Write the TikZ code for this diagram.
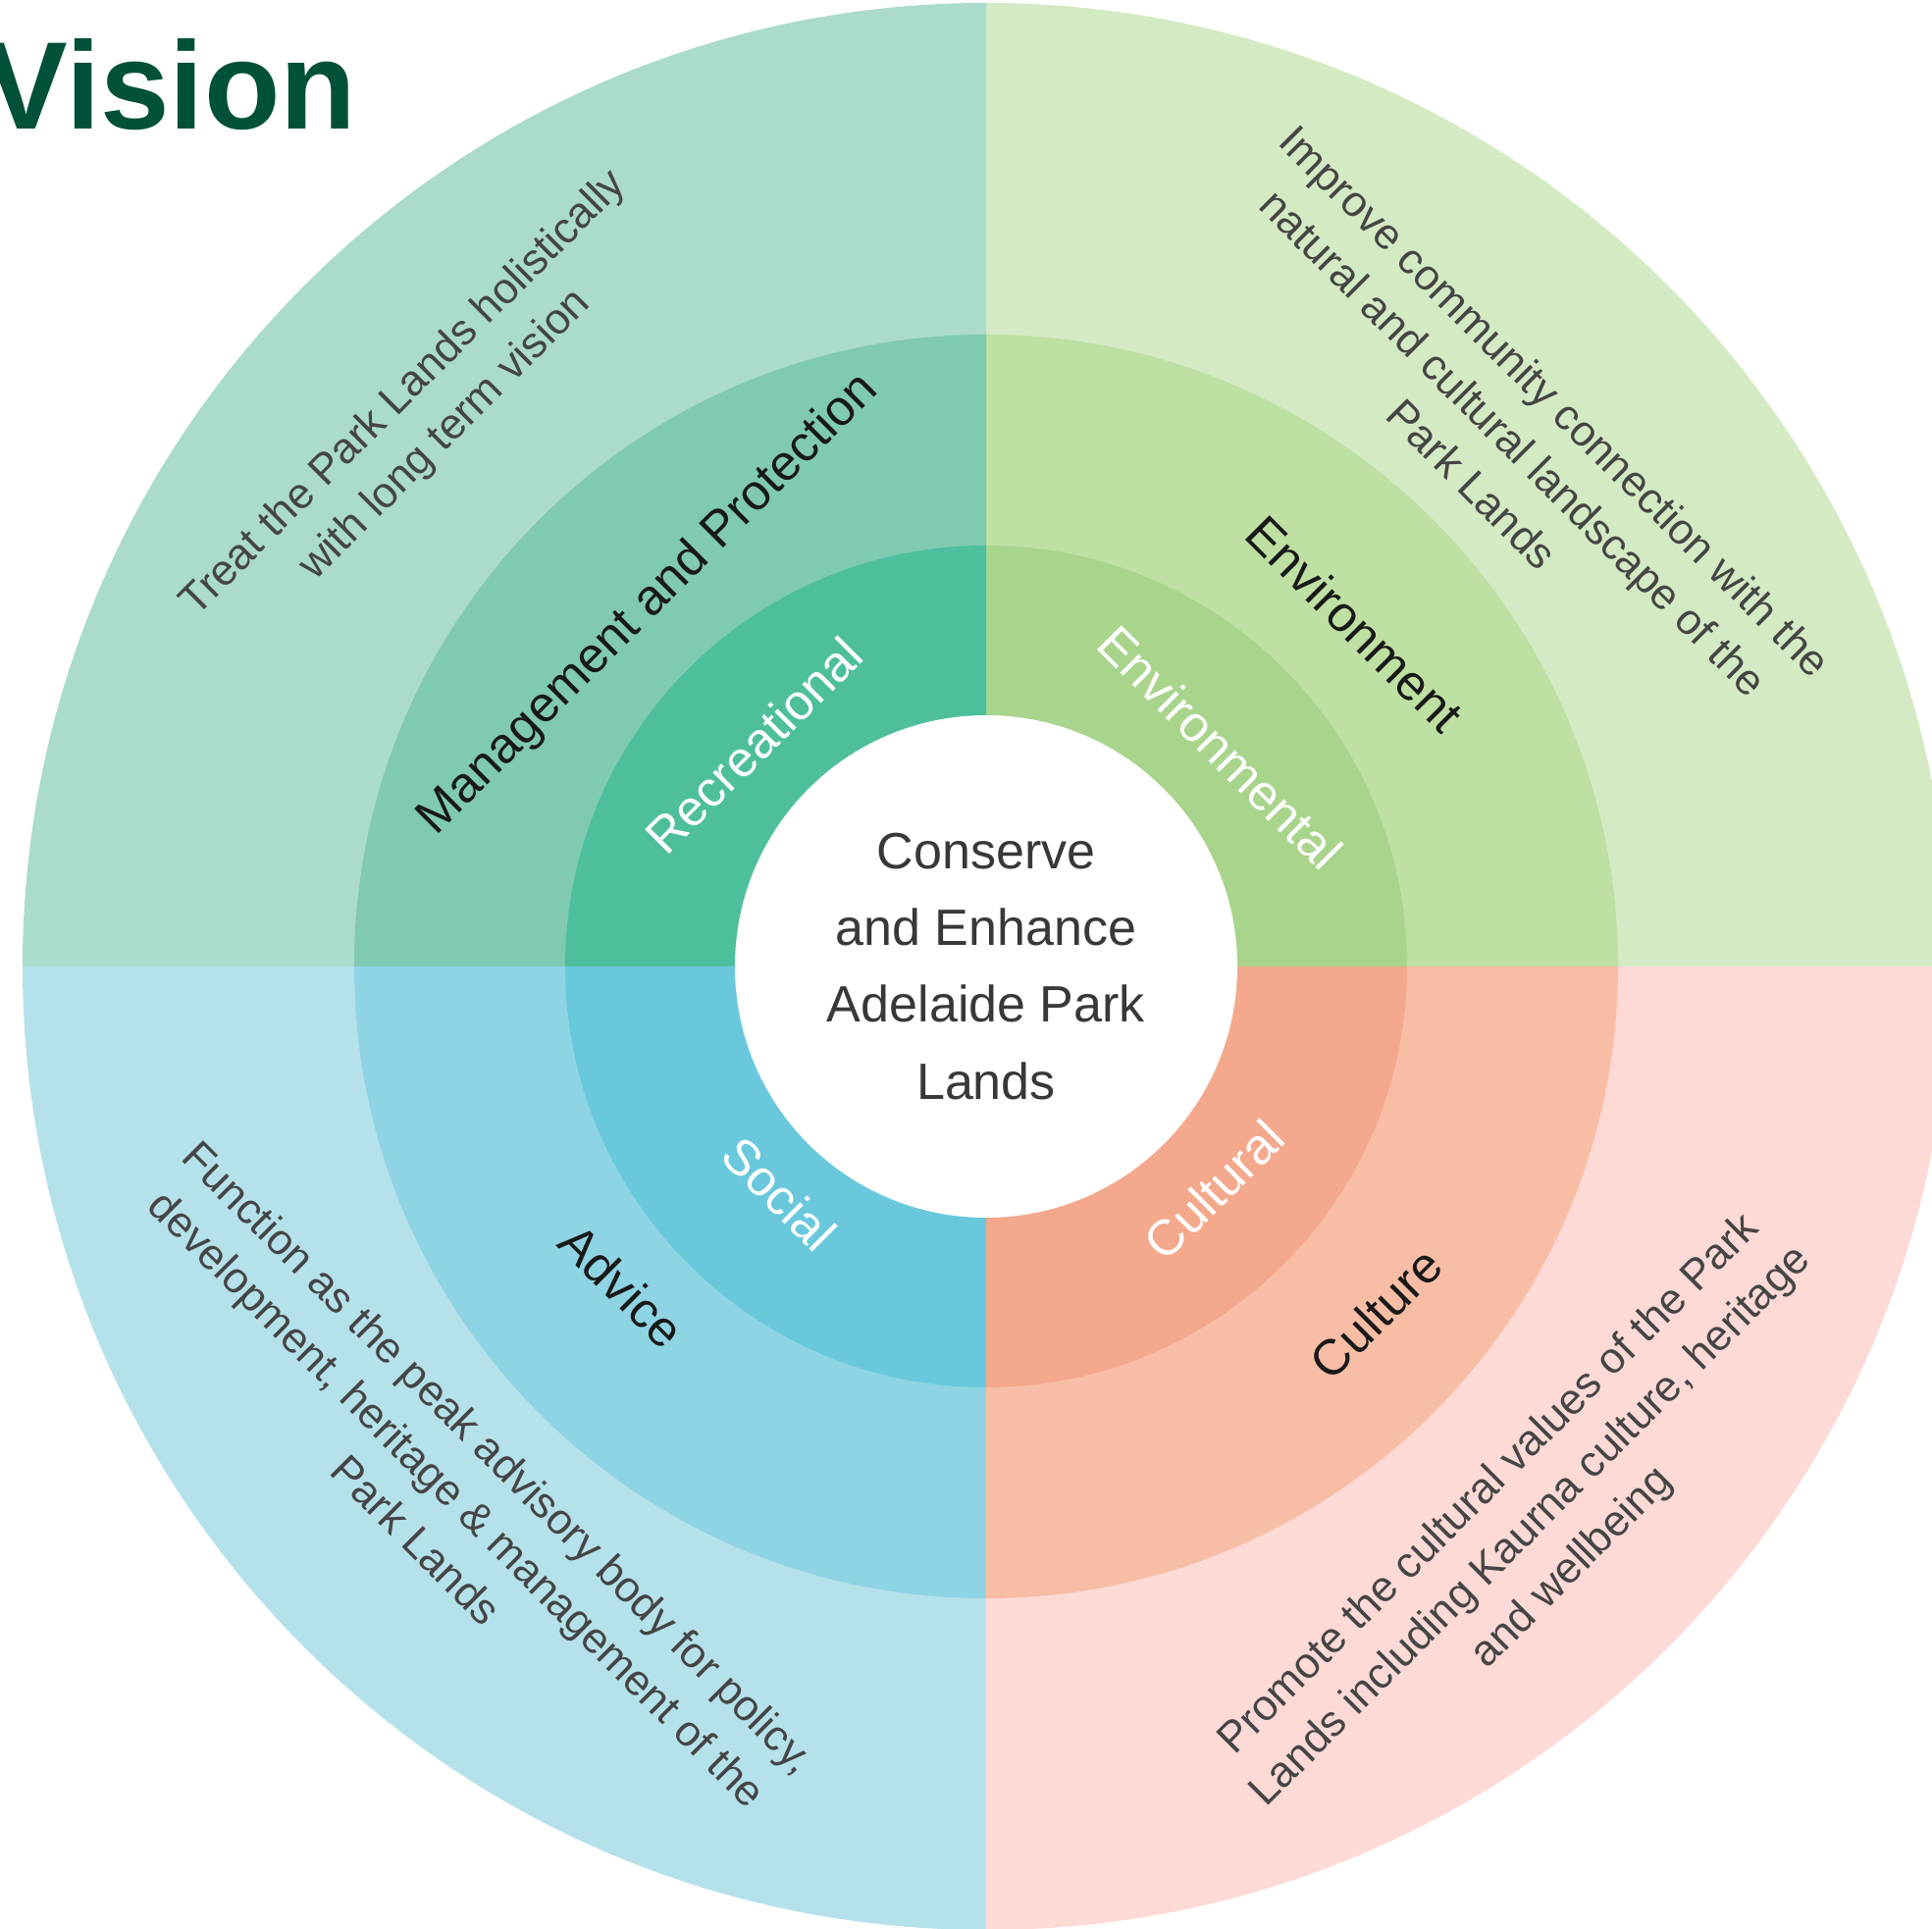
\documentclass[tikz,border=0pt]{standalone}
\usepackage{fontspec}
\setmainfont{Liberation Sans}
\usetikzlibrary{calc}
\definecolor{tlA}{HTML}{AADBCB}
\definecolor{tlB}{HTML}{7FCAB1}
\definecolor{tlC}{HTML}{4DBF9D}
\definecolor{trA}{HTML}{D4EAC4}
\definecolor{trB}{HTML}{BEE0A3}
\definecolor{trC}{HTML}{A9D48C}
\definecolor{blA}{HTML}{B5E1EA}
\definecolor{blB}{HTML}{8ED4E4}
\definecolor{blC}{HTML}{69C8DC}
\definecolor{brA}{HTML}{FDDAD5}
\definecolor{brB}{HTML}{F8BDA5}
\definecolor{brC}{HTML}{F4A88C}
\definecolor{titlegreen}{HTML}{00503A}
\definecolor{thintext}{HTML}{454545}
\tikzset{
  thinlbl/.style={text=thintext, align=center, font=\fontsize{12.5pt}{17pt}\selectfont, inner sep=0pt},
  ringlbl/.style={text=black!90, font=\fontsize{14.5pt}{18pt}\selectfont, inner sep=0pt},
  innerlbl/.style={text=white, font=\fontsize{14.5pt}{18pt}\selectfont, inner sep=0pt},
  centerlbl/.style={text=black!78, align=center, font=\fontsize{14.8pt}{22.2pt}\selectfont, inner sep=0pt},
}
\begin{document}
\begin{tikzpicture}[x=0.01cm,y=0.01cm]
\useasboundingbox (0,0) rectangle (1969,1966);
\coordinate (C) at (1005,981);
% quadrants: outer
\fill[trA] (C) -- ++(0:982) arc[start angle=0,end angle=90,radius=982] -- cycle;
\fill[tlA] (C) -- ++(90:982) arc[start angle=90,end angle=180,radius=982] -- cycle;
\fill[blA] (C) -- ++(180:982) arc[start angle=180,end angle=270,radius=982] -- cycle;
\fill[brA] (C) -- ++(270:982) arc[start angle=270,end angle=360,radius=982] -- cycle;
% middle
\fill[trB] (C) -- ++(0:644) arc[start angle=0,end angle=90,radius=644] -- cycle;
\fill[tlB] (C) -- ++(90:644) arc[start angle=90,end angle=180,radius=644] -- cycle;
\fill[blB] (C) -- ++(180:644) arc[start angle=180,end angle=270,radius=644] -- cycle;
\fill[brB] (C) -- ++(270:644) arc[start angle=270,end angle=360,radius=644] -- cycle;
% inner
\fill[trC] (C) -- ++(0:429) arc[start angle=0,end angle=90,radius=429] -- cycle;
\fill[tlC] (C) -- ++(90:429) arc[start angle=90,end angle=180,radius=429] -- cycle;
\fill[blC] (C) -- ++(180:429) arc[start angle=180,end angle=270,radius=429] -- cycle;
\fill[brC] (C) -- ++(270:429) arc[start angle=270,end angle=360,radius=429] -- cycle;
% centre
\fill[white] (C) circle[radius=256];
\node[centerlbl] (centre) at (C) {Conserve\\and Enhance\\Adelaide Park\\Lands};
% title
\node[anchor=base west, inner sep=0pt, text=titlegreen, font=\fontsize{36.1pt}{40pt}\selectfont\bfseries] (title) at (-16,1834) {Vision};
% top-left
\node[thinlbl, rotate=45] (treat) at ($(C)+(135.5:802)$) {Treat the Park Lands holistically\\with long term vision};
\node[ringlbl, rotate=45] (mgmt) at ($(C)+(133:504)$) {Management and Protection};
\node[innerlbl, rotate=45] (recr) at ($(C)+(136.4:327)$) {Recreational};
% top-right
\node[thinlbl, rotate=-45] (improve) at ($(C)+(44.8:758)$) {Improve community connection with the\\natural and cultural landscape of the\\Park Lands};
\node[ringlbl, rotate=-45] (envt) at ($(C)+(42.9:513)$) {Environment};
\node[innerlbl, rotate=-45] (envl) at ($(C)+(43.1:327)$) {Environmental};
% bottom-left
\node[thinlbl, rotate=-45] (function) at ($(C)+(225.2:764)$) {Function as the peak advisory body for policy,\\development, heritage \& management of the\\Park Lands};
\node[ringlbl, rotate=-45] (advice) at ($(C)+(221.3:494)$) {Advice};
\node[innerlbl, rotate=-45] (social) at ($(C)+(227.8:313)$) {Social};
% bottom-right
\node[thinlbl, rotate=45] (promote) at ($(C)+(314.2:797)$) {Promote the cultural values of the Park\\Lands including Kaurna culture, heritage\\and wellbeing};
\node[ringlbl, rotate=45] (culture) at ($(C)+(318.3:532)$) {Culture};
\node[innerlbl, rotate=45] (cultural) at ($(C)+(315.6:325)$) {Cultural};
\end{tikzpicture}
\end{document}
